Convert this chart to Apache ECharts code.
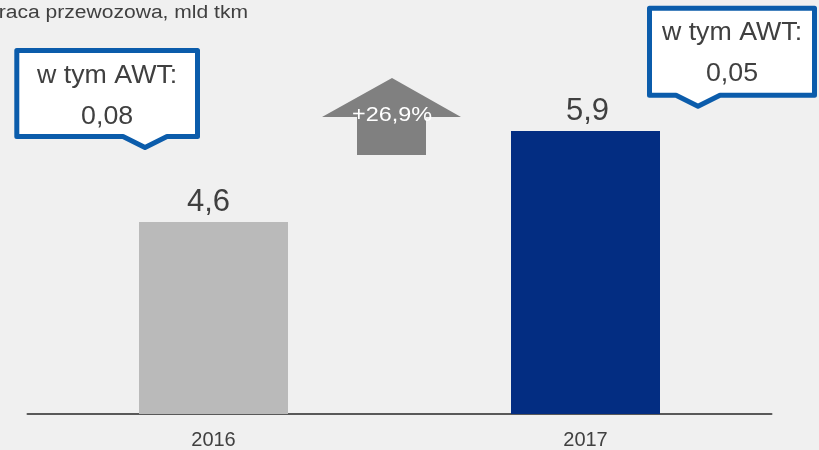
<!DOCTYPE html>
<html>
<head>
<meta charset="utf-8">
<script src="https://cdn.jsdelivr.net/npm/echarts@6/dist/echarts.min.js"></script>
<style>
  html, body { margin: 0; padding: 0; background: #f0f0f0; }
  #chart { width: 819px; height: 450px; }
</style>
</head>
<body>
<div id="chart"></div>
<script>
// Praca przewozowa (mld tkm) by year
const years = ['2016', '2017'];
const workValues = [4.6, 5.9];
// share of intermodal (AWT) transport in each year
const awtValues = [0.08, 0.05];
const awtCaption = 'w tym AWT:';
const growthLabel = '+26,9%';
const titleText = 'Praca przewozowa, mld tkm';

const barColors = ['#bababa', '#032d82'];
const labelShiftX = [-5, 2];
const FONT = '"Liberation Sans", Arial, sans-serif';
const TEXT = '#404040';
const BLUE = '#0b5cab';

const fmt = v => String(v).replace('.', ',');

// callout box outline: rectangle with a small pointer at the bottom
function calloutPoints(x0, y0, x1, y1, px, pw, ph) {
  return [[x0, y0], [x1, y0], [x1, y1], [px + pw, y1], [px, y1 + ph], [px - pw, y1], [x0, y1]];
}

function callout(x0, y0, x1, y1, px, caption, value, capY, valY) {
  const cx = (x0 + x1) / 2;
  const txt = (t, y) => ({
    type: 'text', x: cx, y: y, z: 11, scaleX: 1.07,
    style: { text: t, fill: TEXT, font: '25px ' + FONT, textAlign: 'center', textVerticalAlign: 'bottom' }
  });
  return [
    {
      type: 'polygon',
      shape: { points: calloutPoints(x0, y0, x1, y1, px, 22, 11) },
      style: { fill: '#ffffff', stroke: BLUE, lineWidth: 5, lineJoin: 'round' },
      z: 10
    },
    txt(caption, capY),
    txt(fmt(value), valY)
  ];
}

const chart = echarts.init(document.getElementById('chart'), null, { renderer: 'canvas' });

chart.setOption({
  backgroundColor: '#f0f0f0',
  animation: false,
  grid: { left: 27.5, right: 47.5, top: 54, bottom: 36, containLabel: false },
  xAxis: {
    type: 'category',
    data: years,
    axisLine: { show: true, lineStyle: { color: '#595959', width: 2 } },
    axisTick: { show: false },
    axisLabel: { color: TEXT, fontSize: 20, fontFamily: FONT, margin: 16 }
  },
  yAxis: {
    type: 'value',
    min: 1.86,
    max: 7,
    show: false,
    splitLine: { show: false }
  },
  series: [{
    type: 'bar',
    barWidth: 149,
    data: workValues.map((v, i) => ({
      value: v,
      itemStyle: { color: barColors[i] },
      label: { offset: [labelShiftX[i], 0] }
    })),
    label: {
      show: true,
      position: 'top',
      distance: 4,
      color: TEXT,
      fontSize: 31,
      fontFamily: FONT,
      formatter: p => fmt(p.value)
    }
  }],
  graphic: [
    {
      type: 'text', x: 248, y: 22, scaleX: 1.17,
      style: { text: titleText, fill: TEXT, font: '18px ' + FONT, textAlign: 'right', textVerticalAlign: 'bottom' }
    },
    // growth arrow between the bars
    {
      type: 'polygon',
      shape: { points: [[392, 78], [461, 117], [426, 117], [426, 155], [357, 155], [357, 117], [322, 117]] },
      style: { fill: '#808080' }
    },
    {
      type: 'text', x: 392, y: 125, z: 5, scaleX: 1.17,
      style: { text: growthLabel, fill: '#ffffff', font: '20px ' + FONT, textAlign: 'center', textVerticalAlign: 'bottom' }
    },
    ...callout(16.8, 50.5, 197.5, 136.5, 145, awtCaption, awtValues[0], 89, 130),
    ...callout(649.5, 8.2, 814.5, 95.2, 698, awtCaption, awtValues[1], 46, 87)
  ]
});
</script>
</body>
</html>
